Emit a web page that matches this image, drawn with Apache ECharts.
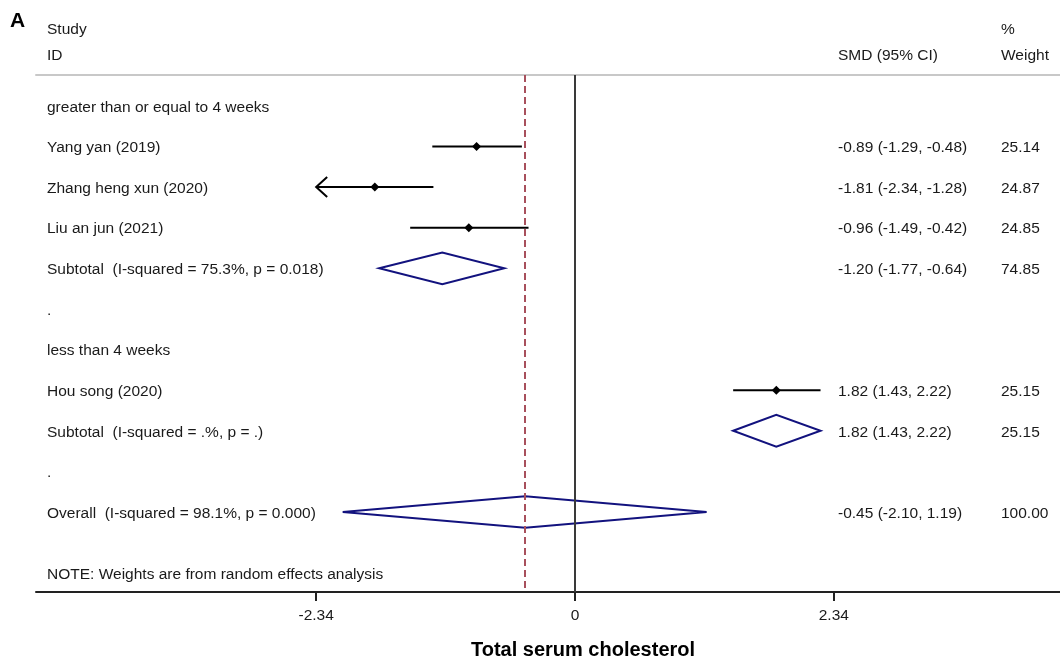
<!DOCTYPE html>
<html>
<head>
<meta charset="utf-8" />
<title>Total serum cholesterol</title>
<script src="https://cdn.jsdelivr.net/npm/echarts@6/dist/echarts.min.js"></script>
<style>
  html, body { margin: 0; padding: 0; background: #fff; }
  #chart { width: 1060px; height: 659px; }
</style>
</head>
<body>
<div id="chart"></div>
<script type="text/javascript">
// rows of the forest plot, top to bottom
var rowLabels = ['greater than or equal to 4 weeks', 'Yang yan (2019)', 'Zhang heng xun (2020)', 'Liu an jun (2021)',
  'Subtotal  (I-squared = 75.3%, p = 0.018)', '.', 'less than 4 weeks', 'Hou song (2020)',
  'Subtotal  (I-squared = .%, p = .)', '.', 'Overall  (I-squared = 98.1%, p = 0.000)'];
var rowKinds = ['group', 'study', 'study', 'study', 'pooled', 'gap', 'group', 'study', 'pooled', 'gap', 'pooled'];
var smd    = [null, -0.89, -1.81, -0.96, -1.20, null, null, 1.82, 1.82, null, -0.45];
var lower  = [null, -1.29, -2.34, -1.49, -1.77, null, null, 1.43, 1.43, null, -2.10];
var upper  = [null, -0.48, -1.28, -0.42, -0.64, null, null, 2.22, 2.22, null, 1.19];
var weight = [null, 25.14, 24.87, 24.85, 74.85, null, null, 25.15, 25.15, null, 100.00];
var overallSmd = -0.45;
var noteText = 'NOTE: Weights are from random effects analysis';
var noteRow = 11.5;
var tickValues = [-2.34, 0, 2.34];
var tickLabels = ['-2.34', '0', '2.34'];
var xRange = [-4.873, 4.385];
var yRange = [-0.76, 11.97];

var FONT = '"Liberation Sans", Arial, sans-serif';
var FS = 15.5;
var NAVY = '#12127e';

function txt(x, y, s) {
    return {
        type: 'text',
        style: { x: x, y: y + 1.5, text: s, fill: '#1a1a1a', fontSize: FS, fontFamily: FONT, verticalAlign: 'middle', align: 'left' }
    };
}

function renderRow(params, api) {
    var i = params.dataIndex;
    var row = api.value(1);
    var y = api.coord([0, row])[1];
    var kids = [];
    if (i >= rowLabels.length) {
        kids.push(txt(47, y, noteText));
        return { type: 'group', children: kids };
    }
    var kind = rowKinds[i];
    kids.push(txt(47, y, rowLabels[i]));
    if (kind === 'study' || kind === 'pooled') {
        var pe = api.coord([smd[i], row])[0];
        var pl = api.coord([lower[i], row])[0];
        var ph = api.coord([upper[i], row])[0];
        if (kind === 'study') {
            kids.push({ type: 'line', shape: { x1: pl, y1: y, x2: ph, y2: y }, style: { stroke: '#000', lineWidth: 2 } });
            kids.push({ type: 'polygon', shape: { points: [[pe - 4.5, y], [pe, y - 4.5], [pe + 4.5, y], [pe, y + 4.5]] }, style: { fill: '#000' } });
            // CI runs past the lowest axis label: draw an arrow head
            if (lower[i] <= tickValues[0]) {
                kids.push({ type: 'polyline', shape: { points: [[pl + 11, y - 10], [pl, y], [pl + 11, y + 10]] }, style: { stroke: '#000', lineWidth: 2, fill: null } });
            }
        } else {
            var h = api.size([0, 0.39])[1];
            kids.push({ type: 'polygon', shape: { points: [[pl, y], [pe, y - h], [ph, y], [pe, y + h]] }, style: { fill: '#fff', stroke: NAVY, lineWidth: 2 } });
        }
        var ci = smd[i].toFixed(2) + ' (' + lower[i].toFixed(2) + ', ' + upper[i].toFixed(2) + ')';
        kids.push(txt(838, y, ci));
        kids.push(txt(1001, y, weight[i].toFixed(2)));
    }
    return { type: 'group', children: kids };
}

var rowData = rowLabels.map(function (l, i) { return [0, i]; });
rowData.push([0, noteRow]);

var myChart = echarts.init(document.getElementById('chart'));
myChart.setOption({
    animation: false,
    backgroundColor: '#fff',
    grid: { left: 36, right: 0, top: 75, bottom: 67 },
    xAxis: [{
        type: 'value',
        min: xRange[0],
        max: xRange[1],
        position: 'bottom',
        splitLine: { show: false },
        axisLine: { show: true, onZero: false, lineStyle: { color: '#222', width: 2 } },
        axisTick: { show: true, customValues: tickValues, length: 9, lineStyle: { color: '#222', width: 2 } },
        axisLabel: {
            show: true,
            customValues: tickValues,
            margin: 16,
            fontSize: FS,
            fontFamily: FONT,
            color: '#1a1a1a',
            formatter: function (v) {
                var k = tickValues.indexOf(v);
                return k >= 0 ? tickLabels[k] : '';
            }
        }
    }, {
        type: 'value',
        min: xRange[0],
        max: xRange[1],
        position: 'top',
        splitLine: { show: false },
        axisLine: { show: true, onZero: false, lineStyle: { color: '#c8c8c8', width: 2 } },
        axisTick: { show: false },
        axisLabel: { show: false }
    }],
    yAxis: {
        type: 'value',
        inverse: true,
        min: yRange[0],
        max: yRange[1],
        show: false
    },
    graphic: [
        { type: 'text', left: 10, top: 11, style: { text: 'A', fontSize: 21, fontWeight: 'bold', fontFamily: FONT, fill: '#000' } },
        { type: 'text', x: 47, y: 30, style: { text: 'Study', fontSize: FS, fontFamily: FONT, fill: '#1a1a1a', verticalAlign: 'middle' } },
        { type: 'text', x: 47, y: 56, style: { text: 'ID', fontSize: FS, fontFamily: FONT, fill: '#1a1a1a', verticalAlign: 'middle' } },
        { type: 'text', x: 838, y: 56, style: { text: 'SMD (95% CI)', fontSize: FS, fontFamily: FONT, fill: '#1a1a1a', verticalAlign: 'middle' } },
        { type: 'text', x: 1001, y: 30, style: { text: '%', fontSize: FS, fontFamily: FONT, fill: '#1a1a1a', verticalAlign: 'middle' } },
        { type: 'text', x: 1001, y: 56, style: { text: 'Weight', fontSize: FS, fontFamily: FONT, fill: '#1a1a1a', verticalAlign: 'middle' } },
        { type: 'text', x: 583, y: 650, style: { text: 'Total serum cholesterol', fontSize: 20, fontWeight: 'bold', fontFamily: FONT, fill: '#000', align: 'center', verticalAlign: 'middle' } }
    ],
    series: [{
        // reference lines: no effect and overall estimate
        name: 'refs',
        type: 'line',
        data: [],
        z: 1,
        markLine: {
            silent: true,
            symbol: ['none', 'none'],
            label: { show: false },
            data: [
                { xAxis: 0, lineStyle: { color: '#3a3a3a', type: 'solid', width: 2 } },
                { xAxis: overallSmd, lineStyle: { color: '#a8505c', type: [7, 4], width: 2 } }
            ]
        }
    }, {
        name: 'rows',
        type: 'custom',
        z: 3,
        clip: false,
        renderItem: renderRow,
        data: rowData
    }]
});
</script>
</body>
</html>
